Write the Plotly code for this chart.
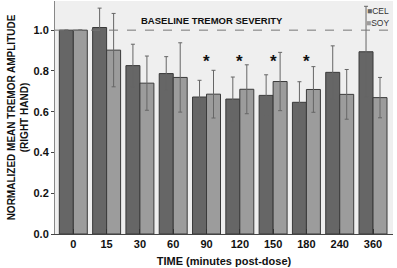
import plotly.graph_objects as go

times = ["0", "15", "30", "60", "90", "120", "150", "180", "240", "360"]
cel = [1.0, 1.013, 0.826, 0.787, 0.672, 0.662, 0.680, 0.646, 0.793, 0.894]
cel_err = [0.0, 0.095, 0.105, 0.083, 0.082, 0.108, 0.101, 0.101, 0.130, 0.223]
soy = [1.0, 0.902, 0.740, 0.768, 0.686, 0.710, 0.748, 0.709, 0.685, 0.669]
soy_err = [0.0, 0.180, 0.133, 0.170, 0.117, 0.120, 0.143, 0.112, 0.122, 0.099]
sig_times = ["90", "120", "150", "180"]
sig_level = 0.845
baseline = 1.0

font = "Liberation Sans, Arial, sans-serif"
xpos = list(range(len(times)))

fig = go.Figure()
fig.add_trace(go.Bar(
    x=xpos, y=cel, name="CEL",
    marker=dict(color="#666666", line=dict(color="#3a3a3a", width=1)),
    error_y=dict(type="data", array=cel_err, color="#666666", thickness=1, width=2),
))
fig.add_trace(go.Bar(
    x=xpos, y=soy, name="SOY",
    marker=dict(color="#9c9c9c", line=dict(color="#3a3a3a", width=1)),
    error_y=dict(type="data", array=soy_err, color="#666666", thickness=1, width=2),
))

fig.add_shape(type="line", xref="paper", yref="y", x0=0, x1=1, y0=baseline, y1=baseline,
              line=dict(color="#777777", width=1, dash="dash"))
fig.add_annotation(xref="paper", yref="y", x=0.465, y=baseline, yshift=10,
                   text="<b>BASELINE TREMOR SEVERITY</b>", showarrow=False,
                   font=dict(family=font, size=9.5, color="#111111"))
for t in sig_times:
    fig.add_annotation(x=times.index(t), y=sig_level, text="<b>*</b>", showarrow=False,
                       font=dict(family=font, size=17, color="#111111"))

# legend drawn as text keys in the top-right corner
legend_items = [("CEL", "#666666"), ("SOY", "#9c9c9c")]
for i, (name, col) in enumerate(legend_items):
    fig.add_annotation(xref="paper", yref="paper", x=0.995, y=0.985 - i * 0.05,
                       xanchor="right", yanchor="top", showarrow=False,
                       text="<span style='color:%s'>■</span>%s" % (col, name),
                       font=dict(family=font, size=8.5, color="#333333"))

fig.update_layout(
    width=397, height=268,
    margin=dict(l=55, r=4, t=1, b=34),
    paper_bgcolor="white", plot_bgcolor="#efefef",
    barmode="group", bargap=0.16, bargroupgap=0.0,
    font=dict(family=font, color="#111111"),
    showlegend=False,
)
fig.update_xaxes(
    range=[-0.55, 9.6], showgrid=False, zeroline=False,
    ticks="inside", ticklen=5, tickcolor="#333333",
    tickvals=xpos, ticktext=["<b>%s</b>" % t for t in times],
    showline=True, linecolor="#444444", linewidth=1,
    tickfont=dict(size=11, family=font, color="#111111"),
    title=dict(text="<b>TIME (minutes post-dose)</b>", font=dict(size=11, family=font), standoff=8),
)
fig.update_yaxes(
    range=[0, 1.143], showgrid=False, zeroline=False, ticks="outside", ticklen=3,
    tickcolor="#444444", tickvals=[0, 0.2, 0.4, 0.6, 0.8, 1.0],
    ticktext=["<b>0.0</b>", "<b>0.2</b>", "<b>0.4</b>", "<b>0.6</b>", "<b>0.8</b>", "<b>1.0</b>"],
    showline=True, linecolor="#888888", linewidth=1,
    tickfont=dict(size=11, family=font, color="#111111"),
    title=dict(text="<b>NORMALIZED MEAN TREMOR AMPLITUDE<br>(RIGHT HAND)</b>",
               font=dict(size=10, family=font), standoff=3),
)

fig.write_html("out.html", config={"displayModeBar": False},
               post_script="document.body.style.margin='0';")
